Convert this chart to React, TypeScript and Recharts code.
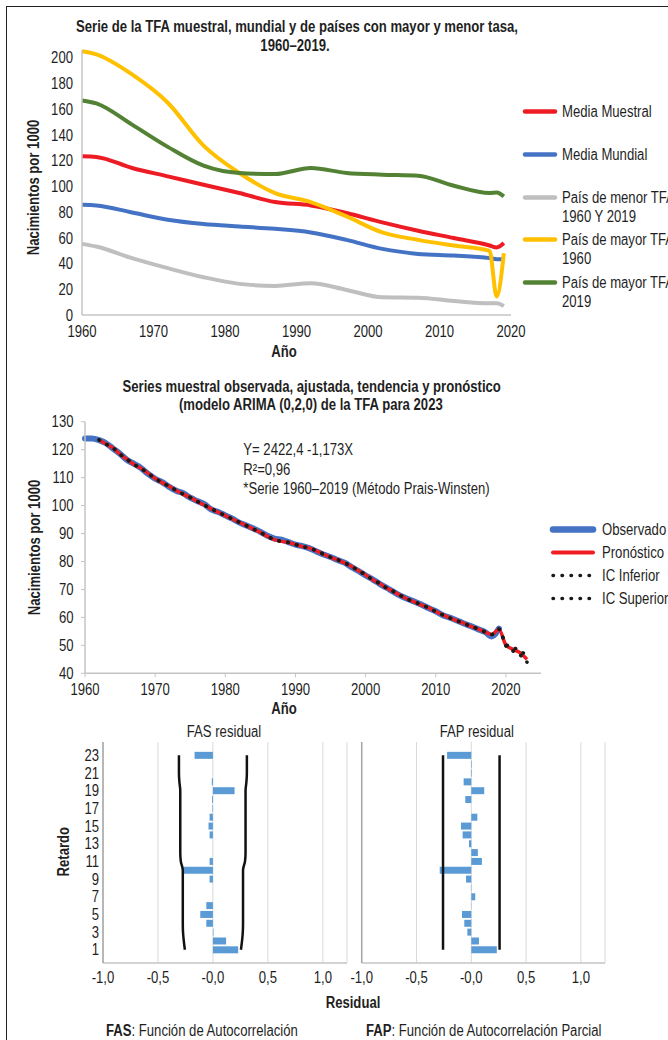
import React from "react";
import {
  ComposedChart,
  Line,
  Bar,
  XAxis,
  YAxis,
  CartesianGrid,
  Legend,
} from "recharts";

const FONT = "'Liberation Sans', Arial, sans-serif";
const SQUEEZE = 0.82; // condensed look of the original typeface
const INK = "#1f1f1f";
const AXIS = "#c4c4c4";

// ---- Serie de la TFA (puntos quinquenales)
const tfaYears = [1960, 1962, 1967, 1972, 1977, 1982, 1987, 1992, 1997, 2002, 2007, 2012, 2017, 2018, 2019];
const mediaMuestral = [123.4, 122.9, 114.3, 107.8, 101.3, 94.8, 87.8, 85.2, 79.3, 72.0, 65.5, 59.8, 54.0, 52.5, 55.9];
const mediaMundial = [85.7, 85.2, 79.7, 74.0, 70.7, 68.8, 67.0, 64.2, 58.4, 51.4, 47.5, 46.2, 44.2, 43.4, 43.4];
const paisMenor = [55.3, 53.2, 44.2, 36.4, 29.4, 24.2, 22.6, 24.7, 19.5, 13.8, 13.5, 10.9, 9.1, 9.1, 7.0];
const paisMayor1960 = [205.0, 202.6, 187.0, 165.0, 131.7, 110.4, 94.8, 87.8, 76.6, 64.2, 58.4, 54.0, 49.9, 14.3, 48.0];
const paisMayor2019 = [166.8, 164.5, 148.0, 130.7, 116.1, 110.4, 109.6, 114.3, 110.4, 109.1, 108.3, 100.5, 94.8, 95.3, 92.2];
const tfaTicksY = [0, 20, 40, 60, 80, 100, 120, 140, 160, 180, 200];
const decadeTicks = [1960, 1970, 1980, 1990, 2000, 2010, 2020];
const tfaOrder = [
  "Media Muestral",
  "Media Mundial",
  "País de menor TFA\n1960 Y 2019",
  "País de mayor TFA\n1960",
  "País de mayor TFA\n2019",
];

// ---- ARIMA (0,2,0)
const arimaYears = [
  1960, 1961, 1962, 1963, 1964, 1965, 1966, 1967, 1968, 1969,
  1970, 1971, 1972, 1973, 1974, 1975, 1976, 1977, 1978, 1979,
  1980, 1981, 1982, 1983, 1984, 1985, 1986, 1987, 1988, 1989,
  1990, 1991, 1992, 1993, 1994, 1995, 1996, 1997, 1998, 1999,
  2000, 2001, 2002, 2003, 2004, 2005, 2006, 2007, 2008, 2009,
  2010, 2011, 2012, 2013, 2014, 2015, 2016, 2017, 2018, 2019,
  2020, 2021, 2022, 2023,
];
// 1960–2019
const observado = [
  124.0, 124.0, 123.4, 122.3, 120.4, 118.5, 116.3, 114.9, 113.4, 111.3,
  109.6, 108.4, 106.7, 105.3, 104.4, 102.8, 101.6, 100.5, 98.6, 97.7,
  96.5, 95.3, 93.9, 92.9, 91.8, 90.6, 89.2, 88.2, 87.8, 86.9,
  86.0, 85.5, 84.7, 83.6, 82.5, 81.6, 80.5, 79.6, 78.0, 76.6,
  75.0, 73.6, 72.0, 70.6, 69.1, 67.7, 66.6, 65.6, 64.5, 63.3,
  62.2, 60.8, 59.9, 58.9, 57.8, 56.9, 55.8, 54.8, 53.2, 56.0,
];
// 1962–2019 (ajustado)
const ajustado = [
  123.5, 122.0, 120.6, 118.4, 116.5, 114.7, 113.3, 111.5,
  109.7, 108.2, 106.9, 105.4, 104.1, 102.9, 101.5, 100.2, 98.8, 97.6,
  96.4, 95.2, 94.0, 92.8, 91.6, 90.4, 89.0, 87.8, 87.2, 86.8,
  86.1, 85.3, 84.8, 83.8, 82.6, 81.5, 80.6, 79.5, 78.2, 76.7,
  75.2, 73.5, 72.1, 70.5, 69.2, 67.8, 66.5, 65.5, 64.4, 63.4,
  62.1, 60.9, 59.8, 58.8, 57.9, 56.8, 55.9, 54.8, 53.9, 55.8,
];
// 2020–2023
const pronostico = [50.1, 48.6, 47.4, 45.0];
const icInferior = [49.8, 48.0, 46.6, 44.0];
const icSuperior = [50.4, 49.2, 48.2, 46.0];
const arimaTicksY = [40, 50, 60, 70, 80, 90, 100, 110, 120, 130];
const arimaOrder = ["Observado", "Pronóstico", "IC Inferior", "IC Superior"];

// ---- Residuales
const lags = [1, 2, 3, 4, 5, 6, 7, 8, 9, 10, 11, 12, 13, 14, 15, 16, 17, 18, 19, 20, 21, 22, 23];
const fasResidual = [0.23, 0.12, 0.005, -0.06, -0.115, -0.06, 0, 0, -0.03, -0.27, -0.03, 0, 0, -0.03, -0.04, -0.03, -0.005, -0.008, 0.197, -0.01, 0, 0, -0.167];
const fasLimite = [0.255, 0.265, 0.272, 0.274, 0.274, 0.274, 0.274, 0.274, 0.274, 0.274, 0.292, 0.297, 0.297, 0.297, 0.297, 0.297, 0.297, 0.297, 0.297, 0.305, 0.309, 0.309, 0.309];
const fapResidual = [0.233, 0.07, -0.036, -0.064, -0.085, 0.002, 0.036, -0.003, -0.048, -0.288, 0.097, 0.06, -0.021, -0.079, -0.094, 0.055, 0, -0.055, 0.118, -0.07, 0.005, 0.005, -0.221];
const fapLimite = [0.258, 0.258, 0.258, 0.258, 0.258, 0.258, 0.258, 0.258, 0.258, 0.258, 0.258, 0.258, 0.258, 0.258, 0.258, 0.258, 0.258, 0.258, 0.258, 0.258, 0.258, 0.258, 0.258];
const residualTicks = [-1, -0.5, 0, 0.5, 1];

const tfaRows = tfaYears.map((year, i) => ({
  year,
  muestral: mediaMuestral[i],
  mundial: mediaMundial[i],
  menor: paisMenor[i],
  mayor1960: paisMayor1960[i],
  mayor2019: paisMayor2019[i],
}));

const fitted = [...ajustado, ...pronostico];
const loAll = [...ajustado, ...icInferior];
const hiAll = [...ajustado, ...icSuperior];
const arimaRows = arimaYears.map((year, i) => ({
  year,
  obs: i < observado.length ? observado[i] : null,
  fit: i >= 2 ? fitted[i - 2] : null,
  lo: i >= 2 ? loAll[i - 2] : null,
  hi: i >= 2 ? hiAll[i - 2] : null,
}));

const residualRows = (vals: number[], lim: number[]) => [
  { lag: 24 },
  ...lags
    .map((lag, i) => ({ lag, v: vals[i], lo: -lim[i], hi: lim[i] }))
    .reverse(),
  { lag: 0 },
];
const fasRows = residualRows(fasResidual, fasLimite);
const fapRows = residualRows(fapResidual, fapLimite);

const fmtResidual = (v: number) => (v === 0 ? "-0,0" : v.toFixed(1).replace(".", ","));
const fmtOddLag = (v: number) => (v % 2 === 1 && v < 24 ? String(v) : "");

// tick text drawn narrow, anchored where recharts puts it
const narrowTick = (fmt?: (v: any) => string) => (props: any) => {
  const { x, y, payload, textAnchor, verticalAnchor } = props;
  const label = fmt ? fmt(payload.value) : String(payload.value);
  if (!label) return <g />;
  const dy = verticalAnchor === "start" ? "0.71em" : "0.355em";
  return (
    <text
      transform={`translate(${x} ${y}) scale(${SQUEEZE} 1)`}
      textAnchor={textAnchor}
      dy={dy}
      fontFamily={FONT}
      fontSize={16}
      fill={INK}
    >
      {label}
    </text>
  );
};

const Narrow = ({ children }: any) => (
  <span
    style={{
      display: "inline-block",
      transform: `scaleX(${SQUEEZE})`,
      transformOrigin: "left center",
      whiteSpace: "pre",
    }}
  >
    {children}
  </span>
);

const TfaLegend = (props: any) => (
  <div style={{ fontFamily: FONT, fontSize: 16, color: INK }}>
    {(props.payload || []).map((p: any) => (
      <div key={p.value} style={{ display: "flex", height: 42.7, alignItems: "flex-start" }}>
        <svg width={36} height={19} style={{ flex: "none" }}>
          <line x1={3} x2={33} y1={9.5} y2={9.5} stroke={p.color} strokeWidth={4.5} strokeLinecap="round" />
        </svg>
        <div style={{ marginLeft: 3.7, lineHeight: "19px" }}>
          <Narrow>{p.value}</Narrow>
        </div>
      </div>
    ))}
  </div>
);

const arimaLegendStyle: Record<string, any> = {
  Observado: { stroke: "#4472c4", strokeWidth: 6.5 },
  "Pronóstico": { stroke: "#f01e23", strokeWidth: 4 },
  "IC Inferior": { stroke: "#1a1a1a", strokeWidth: 3.5, strokeDasharray: "0.5 8.5" },
  "IC Superior": { stroke: "#1a1a1a", strokeWidth: 3.5, strokeDasharray: "0.5 8.5" },
};

const ArimaLegend = (props: any) => (
  <div style={{ fontFamily: FONT, fontSize: 16, color: INK }}>
    {(props.payload || []).map((p: any) => (
      <div key={p.value} style={{ display: "flex", height: 23.2, alignItems: "flex-start" }}>
        <svg width={48} height={19} style={{ flex: "none" }}>
          <line x1={4} x2={44} y1={9.5} y2={9.5} strokeLinecap="round" {...arimaLegendStyle[p.value]} />
        </svg>
        <div style={{ marginLeft: 5, lineHeight: "19px" }}>
          <Narrow>{p.value}</Narrow>
        </div>
      </div>
    ))}
  </div>
);

// svg text with the narrow squeeze; x,y = anchor point, y is the visual middle
const CText = ({ x, y, anchor = "start", bold, rotate = 0, children }: any) => (
  <text
    transform={`translate(${x} ${y}) rotate(${rotate}) scale(${SQUEEZE} 1)`}
    textAnchor={anchor}
    dominantBaseline="central"
    fontFamily={FONT}
    fontSize={16}
    fontWeight={bold ? "bold" : "normal"}
    fill={INK}
  >
    {children}
  </text>
);

const tickStyle = { fontSize: 16, fill: INK, fontFamily: FONT };

export default function App() {
  return (
    <div
      style={{
        position: "absolute",
        left: 0,
        top: 0,
        width: 668,
        height: 1040,
        overflow: "hidden",
        background: "#fff",
        fontFamily: FONT,
      }}
    >
      <div
        style={{
          position: "absolute",
          left: 6,
          top: 6,
          width: 720,
          height: 1100,
          borderLeft: "1.5px solid #222",
          borderTop: "1.5px solid #222",
        }}
      />

      {/* Serie de la TFA */}
      <div style={{ position: "absolute", left: 0, top: 0 }}>
        <ComposedChart width={668} height={345} data={tfaRows} margin={{ top: 50, right: 157, bottom: 0, left: 52 }}>
          <XAxis
            dataKey="year"
            type="number"
            domain={[1960, 2020]}
            ticks={decadeTicks}
            height={30}
            tickLine={false}
            tickSize={6}
            tickMargin={5}
            axisLine={{ stroke: AXIS, strokeWidth: 1.5 }}
            tick={narrowTick()}
          />
          <YAxis
            type="number"
            domain={[0, 206]}
            ticks={tfaTicksY}
            width={30}
            tickLine={false}
            tickSize={6}
            tickMargin={3}
            axisLine={{ stroke: AXIS, strokeWidth: 1.5 }}
            tick={narrowTick()}
          />
          <Legend
            layout="vertical"
            align="center"
            verticalAlign="middle"
            content={TfaLegend}
            itemSorter={(item: any) => tfaOrder.indexOf(item.value)}
            wrapperStyle={{ left: 522, top: 102.2, width: 200, height: 220 }}
          />
          <Line name={tfaOrder[0]} dataKey="muestral" type="monotone" stroke="#ed1c24" strokeWidth={4} dot={false} isAnimationActive={false} />
          <Line name={tfaOrder[1]} dataKey="mundial" type="monotone" stroke="#4472c4" strokeWidth={4} dot={false} isAnimationActive={false} />
          <Line name={tfaOrder[2]} dataKey="menor" type="monotone" stroke="#bfbfbf" strokeWidth={4} dot={false} isAnimationActive={false} />
          <Line name={tfaOrder[3]} dataKey="mayor1960" type="monotone" stroke="#ffc000" strokeWidth={4} dot={false} isAnimationActive={false} />
          <Line name={tfaOrder[4]} dataKey="mayor2019" type="monotone" stroke="#548235" strokeWidth={4} dot={false} isAnimationActive={false} />
        </ComposedChart>
      </div>

      {/* ARIMA */}
      <div style={{ position: "absolute", left: 0, top: 400 }}>
        <ComposedChart width={668} height={300} data={arimaRows} margin={{ top: 21.7, right: 127, bottom: 0, left: 55 }}>
          <XAxis
            dataKey="year"
            type="number"
            domain={[1960, 2025]}
            ticks={decadeTicks}
            height={26.7}
            tickSize={4}
            tickMargin={6}
            tickLine={{ stroke: AXIS }}
            axisLine={{ stroke: AXIS, strokeWidth: 1.5 }}
            tick={narrowTick()}
          />
          <YAxis
            type="number"
            domain={[40, 130]}
            ticks={arimaTicksY}
            width={30}
            tickSize={4}
            tickMargin={7.5}
            tickLine={{ stroke: AXIS }}
            axisLine={{ stroke: AXIS, strokeWidth: 1.5 }}
            tick={narrowTick()}
          />
          <Legend
            layout="vertical"
            align="center"
            verticalAlign="middle"
            content={ArimaLegend}
            itemSorter={(item: any) => arimaOrder.indexOf(item.value)}
            wrapperStyle={{ left: 549, top: 119.8, width: 140, height: 100 }}
          />
          <Line name="Observado" dataKey="obs" type="monotone" stroke="#4472c4" strokeWidth={6} strokeLinecap="round" dot={false} isAnimationActive={false} />
          <Line name="Pronóstico" dataKey="fit" type="monotone" stroke="#f01e23" strokeWidth={3.5} dot={false} isAnimationActive={false} />
          <Line name="IC Inferior" dataKey="lo" type="monotone" stroke="#1a1a1a" strokeWidth={3.5} strokeDasharray="0.5 8.5" strokeLinecap="round" dot={false} isAnimationActive={false} />
          <Line name="IC Superior" dataKey="hi" type="monotone" stroke="#1a1a1a" strokeWidth={3.5} strokeDasharray="0.5 8.5" strokeLinecap="round" dot={false} isAnimationActive={false} />
        </ComposedChart>
      </div>

      {/* FAS residual */}
      <div style={{ position: "absolute", left: 0, top: 730 }}>
        <ComposedChart layout="vertical" width={350} height={260} data={fasRows} margin={{ top: 12, right: 3, bottom: 0, left: 73 }}>
          <CartesianGrid horizontal={false} stroke="#d9d9d9" />
          <XAxis
            type="number"
            domain={[-1, 1.22]}
            ticks={residualTicks}
            height={27}
            tickLine={false}
            tickSize={0}
            tickMargin={9}
            axisLine={{ stroke: AXIS, strokeWidth: 1.5 }}
            tick={narrowTick(fmtResidual)}
          />
          <YAxis
            type="category"
            dataKey="lag"
            width={30}
            interval={0}
            tickLine={false}
            tickSize={0}
            tickMargin={4}
            axisLine={{ stroke: "#a6a6a6", strokeWidth: 1.5 }}
            tick={narrowTick(fmtOddLag)}
          />
          <Bar dataKey="v" fill="#5b9bd5" barSize={7} isAnimationActive={false} />
          <Line dataKey="lo" type="monotone" stroke="#111" strokeWidth={2.5} dot={false} isAnimationActive={false} />
          <Line dataKey="hi" type="monotone" stroke="#111" strokeWidth={2.5} dot={false} isAnimationActive={false} />
        </ComposedChart>
      </div>

      {/* FAP residual */}
      <div style={{ position: "absolute", left: 340, top: 730 }}>
        <ComposedChart layout="vertical" width={280} height={260} data={fapRows} margin={{ top: 12, right: 15, bottom: 0, left: 20.7 }}>
          <CartesianGrid horizontal={false} stroke="#d9d9d9" />
          <XAxis
            type="number"
            domain={[-1, 1.22]}
            ticks={residualTicks}
            height={27}
            tickLine={false}
            tickSize={0}
            tickMargin={9}
            axisLine={{ stroke: AXIS, strokeWidth: 1.5 }}
            tick={narrowTick(fmtResidual)}
          />
          <YAxis
            type="category"
            dataKey="lag"
            width={1}
            tick={false}
            tickLine={false}
            axisLine={{ stroke: "#a6a6a6", strokeWidth: 1.5 }}
          />
          <Bar dataKey="v" fill="#5b9bd5" barSize={7} isAnimationActive={false} />
          <Line dataKey="lo" type="linear" stroke="#111" strokeWidth={2.5} dot={false} isAnimationActive={false} />
          <Line dataKey="hi" type="linear" stroke="#111" strokeWidth={2.5} dot={false} isAnimationActive={false} />
        </ComposedChart>
      </div>

      {/* Textos */}
      <svg
        width={668}
        height={1040}
        style={{ position: "absolute", left: 0, top: 0, pointerEvents: "none" }}
      >
        <CText x={297} y={27} anchor="middle" bold>
          Serie de la TFA muestral, mundial y de países con mayor y menor tasa,
        </CText>
        <CText x={295} y={45.5} anchor="middle" bold>1960–2019.</CText>
        <CText x={33.5} y={187.5} anchor="middle" bold rotate={-90}>Nacimientos por 1000</CText>
        <CText x={284} y={351.7} anchor="middle" bold>Año</CText>

        <CText x={311.7} y={386.7} anchor="middle" bold>
          Series muestral observada, ajustada, tendencia y pronóstico
        </CText>
        <CText x={310.8} y={405} anchor="middle" bold>
          (modelo ARIMA (0,2,0) de la TFA para 2023
        </CText>
        <CText x={243.3} y={450}>Y= 2422,4 -1,173X</CText>
        <CText x={243.3} y={470}>R²=0,96</CText>
        <CText x={243.3} y={489}>*Serie 1960–2019 (Método Prais-Winsten)</CText>
        <CText x={35} y={547.5} anchor="middle" bold rotate={-90}>Nacimientos por 1000</CText>
        <CText x={284} y={708.3} anchor="middle" bold>Año</CText>

        <CText x={224} y={731.7} anchor="middle">FAS residual</CText>
        <CText x={476.8} y={731.7} anchor="middle">FAP residual</CText>
        <CText x={63.3} y={851.7} anchor="middle" bold rotate={-90}>Retardo</CText>
        <CText x={353} y={1003} anchor="middle" bold>Residual</CText>
        <CText x={106} y={1031}>
          <tspan fontWeight="bold">FAS</tspan>
          <tspan>: Función de Autocorrelación</tspan>
        </CText>
        <CText x={366} y={1031}>
          <tspan fontWeight="bold">FAP</tspan>
          <tspan>: Función de Autocorrelación Parcial</tspan>
        </CText>
      </svg>
    </div>
  );
}
